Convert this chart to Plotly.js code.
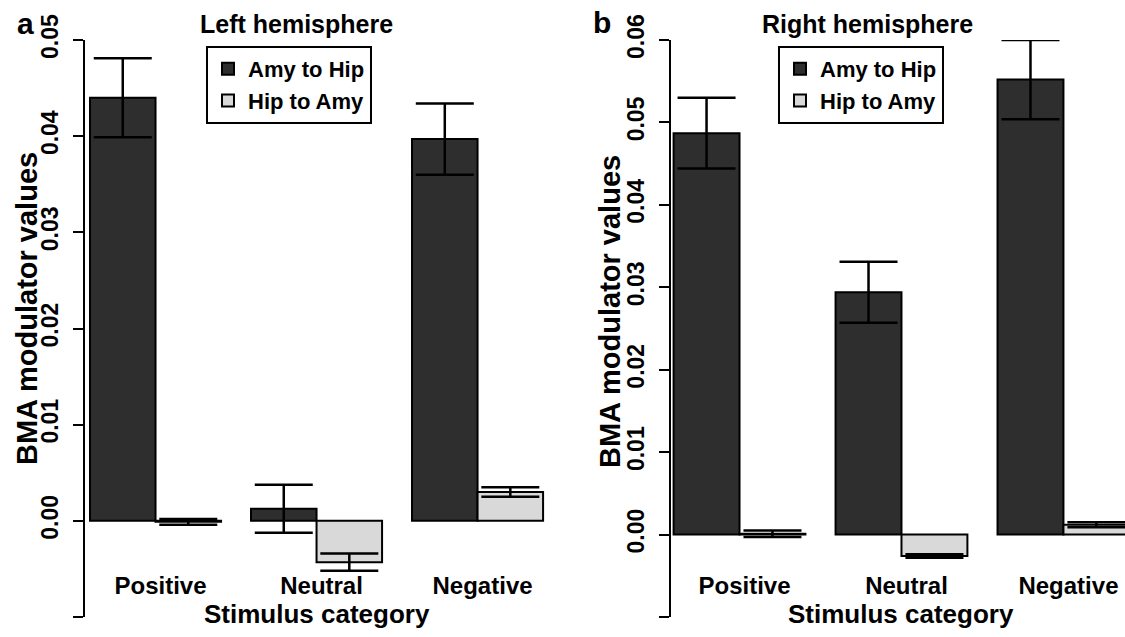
<!DOCTYPE html>
<html>
<head>
<meta charset="utf-8">
<script src="https://cdn.plot.ly/plotly-3.0.1.min.js"></script>
<style>html,body{margin:0;padding:0;background:#fff;}#chart{width:1125px;height:637px;}</style>
</head>
<body>
<div id="chart"></div>
<script>
// ---- data ----
const categories = ["Positive", "Neutral", "Negative"];
const seriesNames = ["Amy to Hip", "Hip to Amy"];

const leftAmyToHip = [0.0440, 0.00125, 0.0397];
const leftAmyToHipErr = [0.0041, 0.0025, 0.0037];
const leftHipToAmy = [-0.0001, -0.0043, 0.0030];
const leftHipToAmyErr = [0.0003, 0.0009, 0.0005];

const rightAmyToHip = [0.0487, 0.0294, 0.0552];
const rightAmyToHipErr = [0.0043, 0.0037, 0.0048];
const rightHipToAmy = [0.0001, -0.0026, 0.0012];
const rightHipToAmyErr = [0.0004, 0.0002, 0.0003];

const leftTickVals = [-0.01, 0.00, 0.01, 0.02, 0.03, 0.04, 0.05];
const leftTickText = ["-0.01", "0.00", "0.01", "0.02", "0.03", "0.04", "0.05"];
const rightTickVals = [-0.01, 0.00, 0.01, 0.02, 0.03, 0.04, 0.05, 0.06];
const rightTickText = ["-0.01", "0.00", "0.01", "0.02", "0.03", "0.04", "0.05", "0.06"];

// ---- styling ----
const W = 1125, H = 637;
const FONT = "Liberation Sans, Arial, Helvetica, sans-serif";
const DARK = "#2e2e2e", LIGHT = "#d9d9d9";
const px = v => v / W;
const py = v => 1 - v / H;

function barTrace(name, y, err, color, xa, ya, leg, showleg) {
  return {
    type: "bar", name: name, x: categories, y: y,
    xaxis: xa, yaxis: ya, legend: leg, showlegend: showleg,
    cliponaxis: false,
    marker: {color: color, line: {color: "#000", width: 2}},
    error_y: {type: "data", array: err, visible: true, color: "#000", thickness: 2.5, width: 29},
    hoverinfo: "skip"
  };
}

const data = [
  barTrace(seriesNames[0], leftAmyToHip, leftAmyToHipErr, DARK, "x", "y", "legend", true),
  barTrace(seriesNames[1], leftHipToAmy, leftHipToAmyErr, LIGHT, "x", "y", "legend", true),
  barTrace(seriesNames[0], rightAmyToHip, rightAmyToHipErr, DARK, "x2", "y2", "legend2", true),
  barTrace(seriesNames[1], rightHipToAmy, rightHipToAmyErr, LIGHT, "x2", "y2", "legend2", true)
];

const tickFont = {family: FONT, size: 23, color: "#000", weight: 700};
function yAxis(range, vals, text, anchor) {
  return {
    anchor: anchor, domain: [py(617), py(40)], range: range,
    showgrid: false, zeroline: false, showline: true, linecolor: "#000", linewidth: 2,
    ticks: "outside", ticklen: 10, tickwidth: 2, tickcolor: "#000",
    tickvals: vals, ticktext: text, tickangle: -90, tickfont: tickFont,
    ticklabelstandoff: 6, fixedrange: true
  };
}
function xAxis(domain, range) {
  return {
    domain: domain, range: range, type: "category", anchor: "free", position: py(569),
    showgrid: false, zeroline: false, showline: false, ticks: "",
    ticklabelshift: 5,
    tickfont: {family: FONT, size: 24, color: "#000", weight: 700}, fixedrange: true
  };
}

const legendBase = {
  y: py(46), xanchor: "left", yanchor: "top",
  bgcolor: "#fff", bordercolor: "#000", borderwidth: 2,
  font: {family: FONT, size: 22, color: "#000", weight: 700},
  itemwidth: 30, tracegroupgap: 0, traceorder: "normal", itemclick: false
};

function ann(text, x, y, size, extra) {
  return Object.assign({
    text: text, xref: "paper", yref: "paper", x: px(x), y: py(y),
    xanchor: "center", yanchor: "middle", showarrow: false,
    font: {family: FONT, size: size, color: "#000", weight: 700}
  }, extra || {});
}

const layout = {
  width: W, height: H,
  margin: {l: 0, r: 0, t: 0, b: 0},
  paper_bgcolor: "#fff", plot_bgcolor: "rgba(0,0,0,0)",
  barmode: "group", bargap: 0.186, bargroupgap: 0,
  showlegend: true,
  xaxis: xAxis([px(85), px(555)], [-0.438, 2.481]),
  yaxis: yAxis([-0.01, 0.05], leftTickVals, leftTickText, "x"),
  xaxis2: xAxis([px(671), 1], [-0.423, 2.38]),
  yaxis2: yAxis([-0.01, 0.06], rightTickVals, rightTickText, "x2"),
  legend: Object.assign({x: px(206)}, legendBase),
  legend2: Object.assign({x: px(778)}, legendBase),
  annotations: [
    ann("a", 25, 23, 30),
    ann("b", 602, 22, 30),
    ann("Left hemisphere", 296, 24, 25),
    ann("Right hemisphere", 867, 24, 25),
    ann("Stimulus category", 317, 614, 26),
    ann("Stimulus category", 901, 614, 26),
    ann("BMA modulator values", 27, 309, 29, {textangle: -90}),
    ann("BMA modulator values", 610, 312, 29, {textangle: -90})
  ]
};

Plotly.newPlot("chart", data, layout, {displayModeBar: false, staticPlot: true});
</script>
</body>
</html>
